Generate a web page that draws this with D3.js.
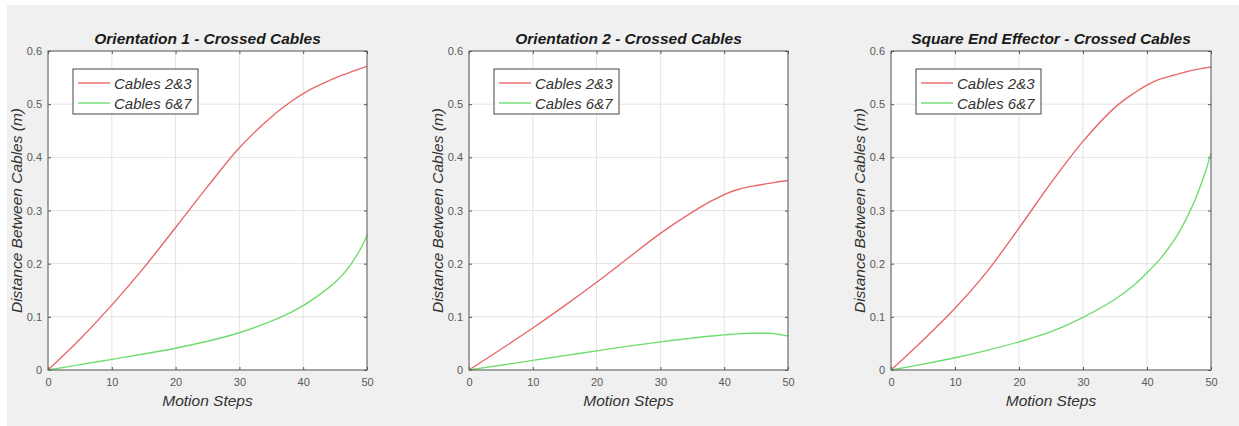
<!DOCTYPE html>
<html><head><meta charset="utf-8">
<script src="https://cdn.jsdelivr.net/npm/d3@7"></script>
<style>body{margin:0;background:#fff;}svg{display:block;font-family:"Liberation Sans",Arial,sans-serif;}</style>
</head><body>
<svg id="c" width="1239" height="426"></svg>
<script>
const steps = [0,5,10,15,20,25,30,35,38,40,42,44,45,46,47,48,49,50];
const titles = ["Orientation 1 - Crossed Cables","Orientation 2 - Crossed Cables","Square End Effector - Crossed Cables"];
const seriesNames = ["Cables 2&3","Cables 6&7"];
const red1   = [0,0.058,0.122,0.192,0.268,0.345,0.418,0.476,0.504,0.520,0.533,0.544,0.549,0.554,0.5585,0.5628,0.567,0.571];
const green1 = [0,0.010,0.020,0.030,0.041,0.054,0.070,0.092,0.108,0.121,0.137,0.155,0.165,0.177,0.191,0.208,0.228,0.253];
const red2   = [0,0.039,0.079,0.121,0.165,0.211,0.257,0.297,0.318,0.330,0.339,0.345,0.347,0.349,0.351,0.353,0.355,0.356];
const green2 = [0,0.009,0.018,0.027,0.036,0.045,0.053,0.060,0.064,0.066,0.068,0.069,0.069,0.069,0.069,0.068,0.066,0.064];
const red3   = [0,0.056,0.116,0.185,0.267,0.352,0.430,0.494,0.521,0.536,0.547,0.554,0.557,0.5605,0.5635,0.566,0.568,0.570];
const green3 = [0,0.011,0.023,0.037,0.053,0.072,0.099,0.133,0.160,0.183,0.208,0.240,0.259,0.281,0.306,0.335,0.368,0.407];
const xTicks = [0,10,20,30,40,50];
const yTicks = [0,0.1,0.2,0.3,0.4,0.5,0.6];
const xLabel = "Motion Steps";
const yLabel = "Distance Between Cables (m)";

const panels = [
  {left:48, right:367, red:red1, green:green1},
  {left:469, right:788, red:red2, green:green2},
  {left:891, right:1211, red:red3, green:green3}
];
const plotTop = 51, plotBottom = 370;
const colors = ["#e8686b","#6fdc6f"];

const svg = d3.select("#c");
svg.append("rect").attr("x",7).attr("y",5).attr("width",1232).attr("height",421).attr("fill","#f0f0f0");

panels.forEach((p,i)=>{
  const x = d3.scaleLinear().domain([0,50]).range([p.left,p.right]);
  const y = d3.scaleLinear().domain([0,0.6]).range([plotBottom,plotTop]);
  const g = svg.append("g");
  g.append("rect").attr("x",p.left).attr("y",plotTop).attr("width",p.right-p.left).attr("height",plotBottom-plotTop).attr("fill","#fff");
  // grid
  g.selectAll(".gx").data(xTicks).join("line").attr("x1",d=>x(d)).attr("x2",d=>x(d)).attr("y1",plotTop).attr("y2",plotBottom).attr("stroke","#e3e3e3").attr("stroke-width",1);
  g.selectAll(".gy").data(yTicks).join("line").attr("y1",d=>y(d)).attr("y2",d=>y(d)).attr("x1",p.left).attr("x2",p.right).attr("stroke","#e3e3e3").attr("stroke-width",1);
  // axes
  const ax = d3.axisBottom(x).tickValues(xTicks).tickSize(-3).tickPadding(8).tickFormat(d3.format("d"));
  const ay = d3.axisLeft(y).tickValues(yTicks).tickSize(-3).tickPadding(6).tickFormat(d=>d===0?"0":d3.format(".1f")(d));
  const axT = d3.axisTop(x).tickValues(xTicks).tickSize(-3).tickFormat("");
  const ayR = d3.axisRight(y).tickValues(yTicks).tickSize(-3).tickFormat("");
  [[ax,`translate(0,${plotBottom})`],[ay,`translate(${p.left},0)`],[axT,`translate(0,${plotTop})`],[ayR,`translate(${p.right},0)`]].forEach(([a,t])=>{
    const ag = g.append("g").attr("transform",t).call(a);
    ag.select(".domain").remove();
    ag.selectAll("line").attr("stroke","#555");
    ag.selectAll("text").attr("fill","#595959").attr("font-size",11).attr("font-family","Liberation Sans, Arial, sans-serif");
  });
  // lines
  const line = d3.line().x((d,k)=>x(steps[k])).y(d=>y(d)).curve(d3.curveCatmullRom.alpha(0.5));
  [p.red,p.green].forEach((s,k)=>{
    g.append("path").attr("d",line(s)).attr("fill","none").attr("stroke",colors[k]).attr("stroke-width",1.4);
  });
  // box
  g.append("rect").attr("x",p.left).attr("y",plotTop).attr("width",p.right-p.left).attr("height",plotBottom-plotTop).attr("fill","none").attr("stroke","#5a5a5a").attr("stroke-width",1);
  // title
  g.append("text").attr("x",(p.left+p.right)/2).attr("y",44).attr("text-anchor","middle").attr("font-size",15.5).attr("font-weight","bold").attr("font-style","italic").attr("fill","#1a1a1a").text(titles[i]);
  // axis labels
  g.append("text").attr("x",(p.left+p.right)/2).attr("y",406).attr("text-anchor","middle").attr("font-size",15.5).attr("font-style","italic").attr("fill","#333").text(xLabel);
  g.append("text").attr("transform",`translate(${p.left-26},${(plotTop+plotBottom)/2}) rotate(-90)`).attr("text-anchor","middle").attr("font-size",15.5).attr("font-style","italic").attr("fill","#333").text(yLabel);
  // legend
  const lx = p.left+25, ly = 69;
  const lg = g.append("g");
  lg.append("rect").attr("x",lx).attr("y",ly).attr("width",125).attr("height",45).attr("fill","#fff").attr("stroke","#444").attr("stroke-width",1);
  seriesNames.forEach((n,k)=>{
    const yy = ly+14+k*20;
    lg.append("line").attr("x1",lx+5).attr("x2",lx+37).attr("y1",yy).attr("y2",yy).attr("stroke",colors[k]).attr("stroke-width",1.4);
    lg.append("text").attr("x",lx+41).attr("y",yy+5.5).attr("font-size",15).attr("font-style","italic").attr("fill","#333").text(n);
  });
});
</script>
</body></html>
